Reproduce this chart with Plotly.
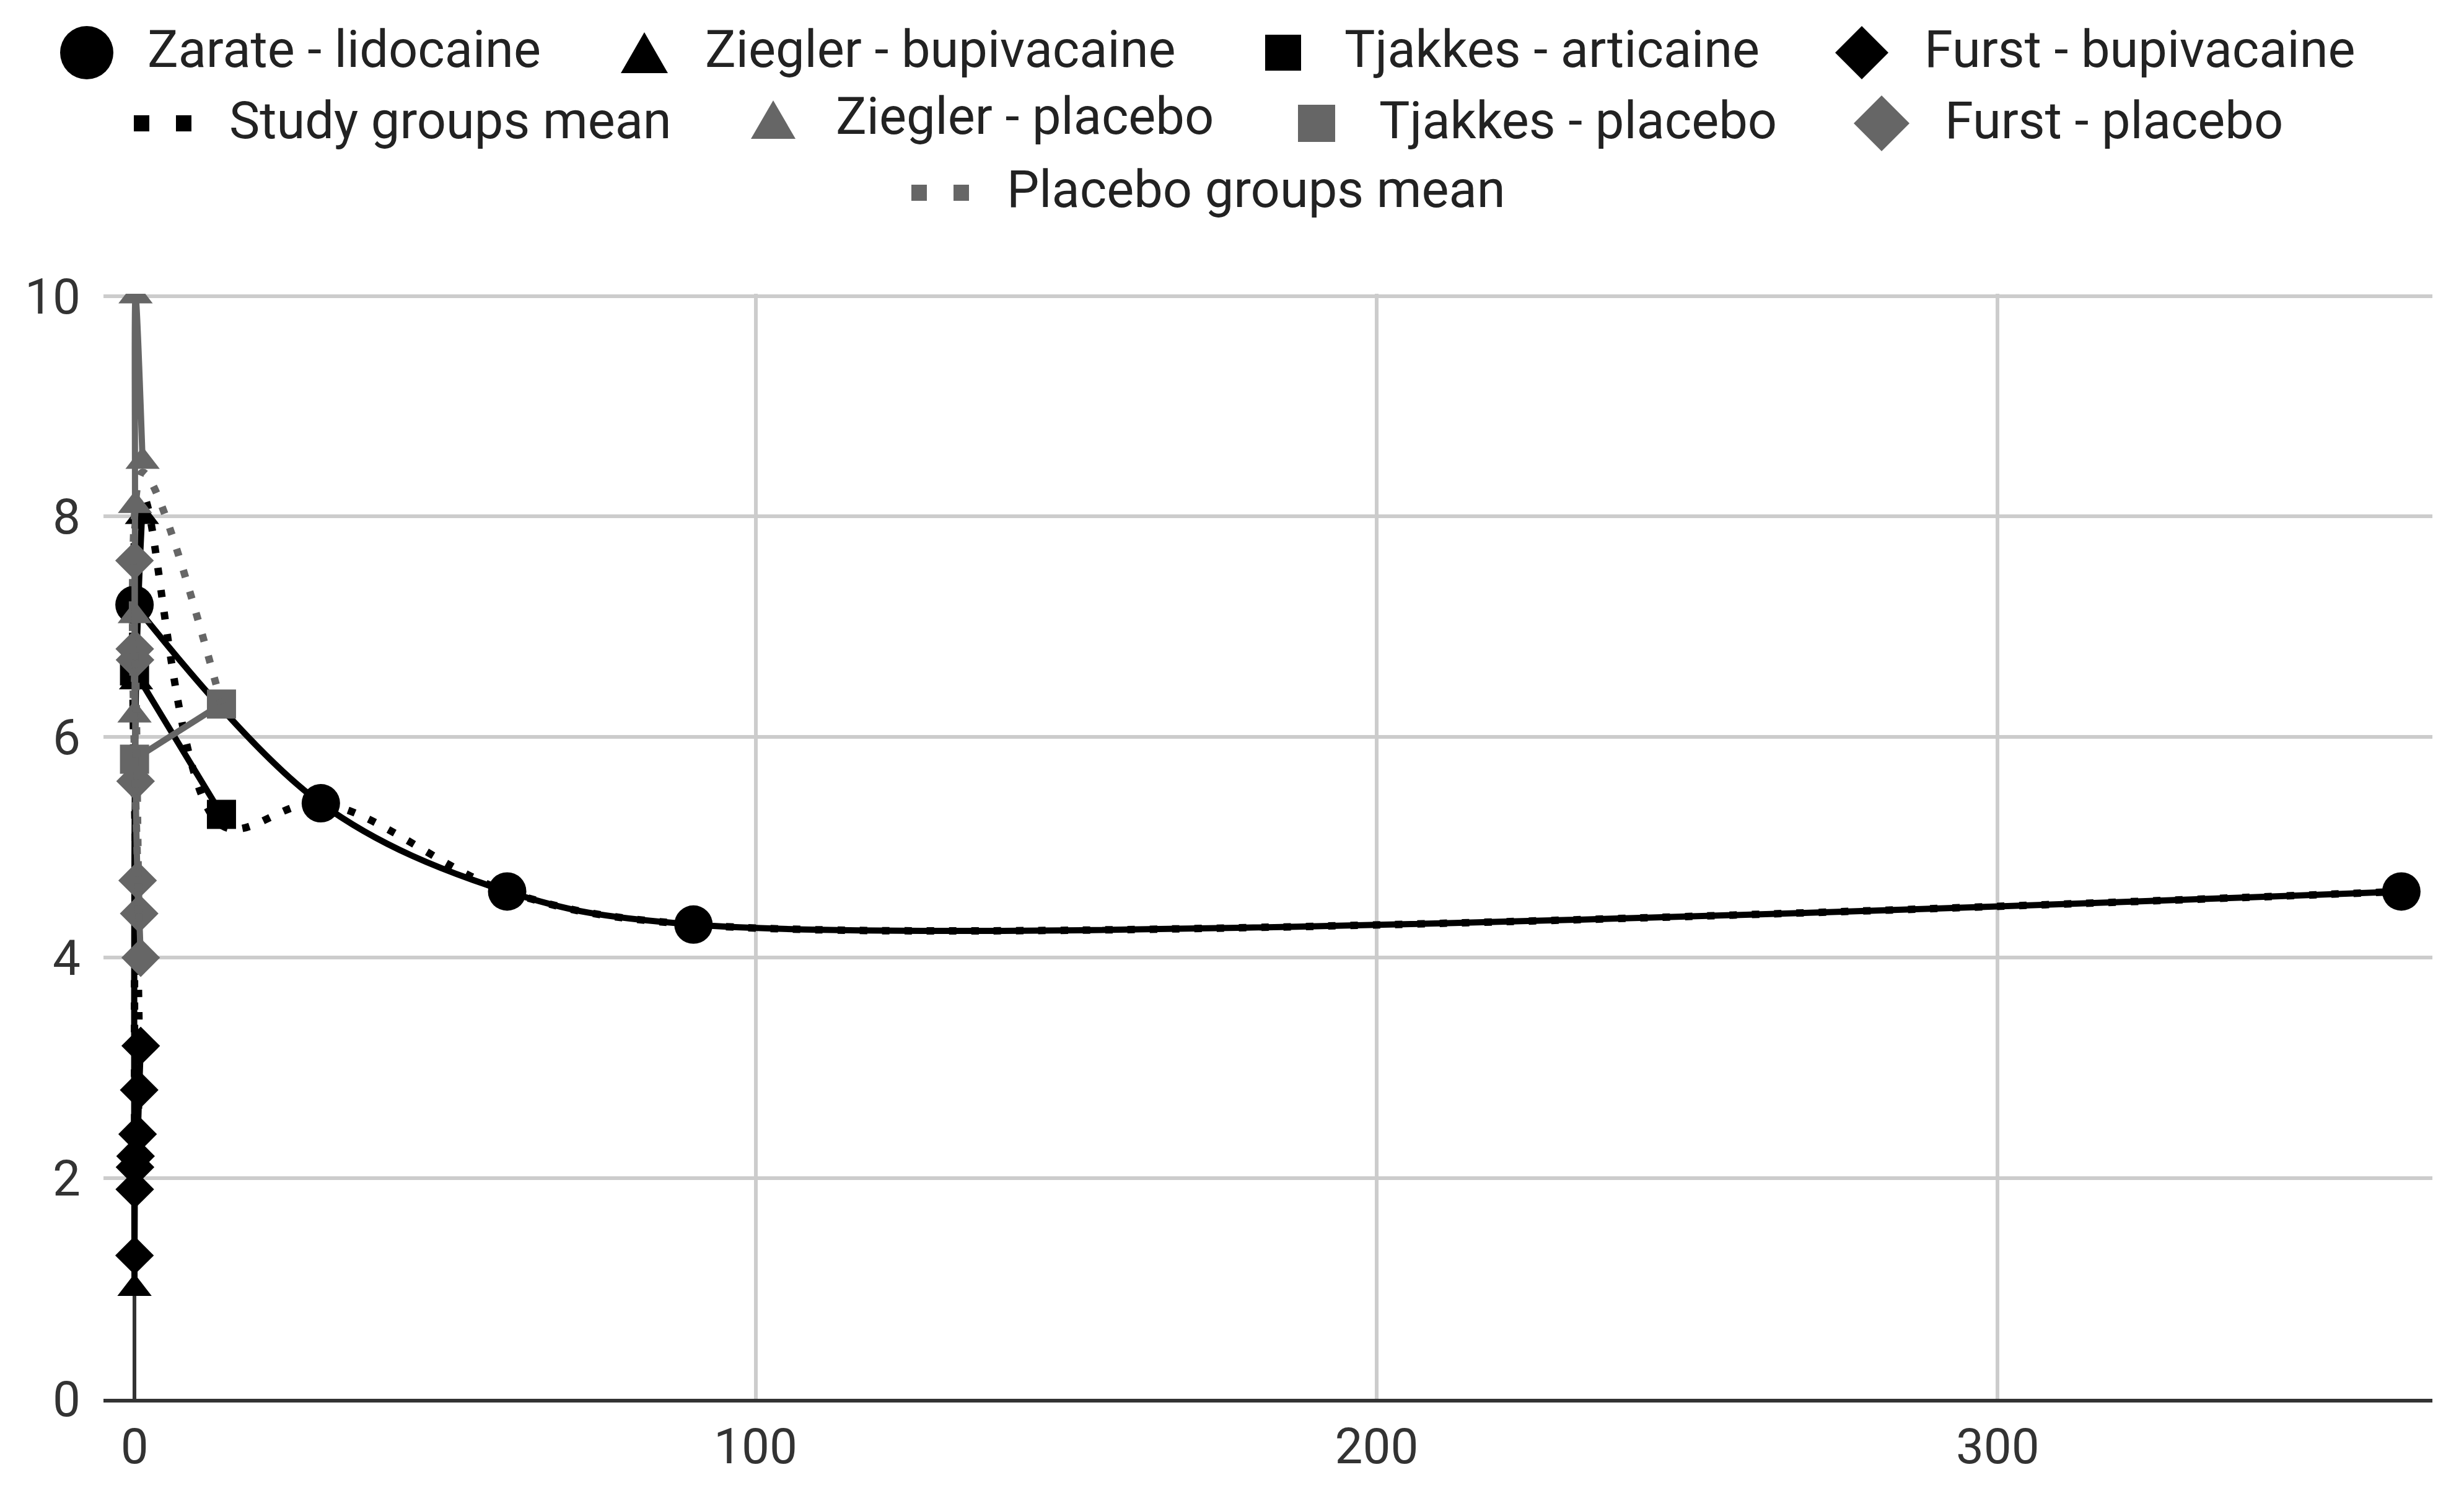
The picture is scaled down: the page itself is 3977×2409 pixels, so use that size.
import plotly.graph_objects as go

# pain score (0-10) against days after surgery
zarate_x = [0, 30, 60, 90, 365]
zarate_y = [7.2, 5.4, 4.6, 4.3, 4.6]

ziegler_bupi_x = [0, 0.25, 1.2]
ziegler_bupi_y = [1.0, 6.5, 8.0]

tjakkes_art_x = [0, 14]
tjakkes_art_y = [6.6, 5.3]

furst_x = [0, 0.04, 0.08, 0.17, 0.5, 0.75, 1.0]
furst_bupi_y = [1.3, 1.9, 2.1, 2.2, 2.4, 2.8, 3.2]

study_mean_x = [0, 0.1, 0.25, 0.5, 0.75, 1.2, 14, 30, 60, 90, 365]
study_mean_y = [4.0, 1.9, 2.2, 2.4, 3.0, 8.2, 5.2, 5.4, 4.6, 4.3, 4.6]

ziegler_plac_x = [0, 0.04, 0.08, 0.17, 1.3]
ziegler_plac_y = [6.2, 7.1, 8.1, 10.0, 8.5]

tjakkes_plac_x = [0, 14]
tjakkes_plac_y = [5.8, 6.3]

furst_plac_y = [7.6, 6.8, 6.7, 5.6, 4.7, 4.4, 4.0]

placebo_mean_x = [0, 0.1, 0.25, 0.5, 0.75, 1.3, 14]
placebo_mean_y = [6.5, 6.8, 6.4, 5.2, 4.3, 8.4, 6.3]

x_ticks = [0, 100, 200, 300]
y_ticks = [0, 2, 4, 6, 8, 10]

BLACK = "#000000"
GREY = "#666666"

W, H = 3977, 2409
L, R, T, B = 167, 51, 474, 152


def fx(px):
    return (px - L) / (W - L - R)


def fy(py):
    return (H - B - py) / (H - T - B)


fig = go.Figure()


def add_series(x, y, color, symbol, size):
    fig.add_trace(go.Scatter(
        x=x, y=y, mode="lines+markers", showlegend=False,
        line=dict(color=color, width=10, shape="spline", smoothing=1),
        marker=dict(color=color, symbol=symbol, size=size, line=dict(width=0)),
    ))


def add_mean(x, y, color):
    fig.add_trace(go.Scatter(
        x=x, y=y, mode="lines", showlegend=False,
        line=dict(color=color, width=12, dash="12px,24px", shape="spline", smoothing=1),
    ))


add_series(zarate_x, zarate_y, BLACK, "circle", 62)
add_series(ziegler_bupi_x, ziegler_bupi_y, BLACK, "triangle-up", 48)
add_series(tjakkes_art_x, tjakkes_art_y, BLACK, "square", 47)
add_series(furst_x, furst_bupi_y, BLACK, "diamond", 48)
add_mean(study_mean_x, study_mean_y, BLACK)
add_series(ziegler_plac_x, ziegler_plac_y, GREY, "triangle-up", 48)
add_series(tjakkes_plac_x, tjakkes_plac_y, GREY, "square", 47)
add_series(furst_x, furst_plac_y, GREY, "diamond", 48)
add_mean(placebo_mean_x, placebo_mean_y, GREY)

# legend drawn by hand so the symbols can be as large as in the original
legend_items = [
    ("Zarate - lidocaine", "circle", BLACK, 140, 85, 236, 43),
    ("Ziegler - bupivacaine", "triangle", BLACK, 1040, 85, 1136, 38),
    ("Tjakkes - articaine", "square", BLACK, 2071, 85, 2168, 29),
    ("Furst - bupivacaine", "diamond", BLACK, 3005, 85, 3104, 43),
    ("Study groups mean", "dots", BLACK, 216, 199, 368, 0),
    ("Ziegler - placebo", "triangle", GREY, 1248, 193, 1347, 36),
    ("Tjakkes - placebo", "square", GREY, 2125, 199, 2224, 30),
    ("Furst - placebo", "diamond", GREY, 3037, 199, 3137, 45),
    ("Placebo groups mean", "dots", GREY, 1471, 311, 1623, 0),
]

shapes = []
annotations = []
for label, kind, color, sx, sy, tx, r in legend_items:
    base = dict(xref="paper", yref="paper", xsizemode="pixel", ysizemode="pixel",
                xanchor=fx(sx), yanchor=fy(sy))
    if kind == "circle":
        shapes.append(dict(base, type="circle", x0=-r, x1=r, y0=-r, y1=r,
                           fillcolor=color, line=dict(width=0)))
    elif kind == "square":
        shapes.append(dict(base, type="rect", x0=-r, x1=r, y0=-r, y1=r,
                           fillcolor=color, line=dict(width=0)))
    elif kind == "triangle":
        h = round(r * 0.87)
        shapes.append(dict(base, type="path", path=f"M-{r},-{h} L{r},-{h} L0,{h} Z",
                           fillcolor=color, line=dict(width=0)))
    elif kind == "diamond":
        shapes.append(dict(base, type="path", path=f"M0,{r} L{r},0 L0,-{r} L-{r},0 Z",
                           fillcolor=color, line=dict(width=0)))
    else:
        shapes.append(dict(base, type="line", x0=0, x1=93, y0=0, y1=0,
                           line=dict(color=color, width=26, dash="25px,43px")))
    annotations.append(dict(xref="paper", yref="paper", x=fx(tx), y=fy(sy - 5),
                            xanchor="left", yanchor="middle", showarrow=False,
                            text=label, font=dict(size=83, color="#222222")))

fig.update_layout(
    width=W, height=H,
    margin=dict(l=L, r=R, t=T, b=B),
    plot_bgcolor="white", paper_bgcolor="white",
    showlegend=False,
    font=dict(family="Roboto, Arial, sans-serif", size=80, color="#333333"),
    shapes=shapes,
    annotations=annotations,
)
fig.update_xaxes(
    range=[-5, 370], tickvals=x_ticks, ticks="", ticklabelstandoff=2,
    automargin=False,
    showgrid=True, gridcolor="#cccccc", gridwidth=6,
    zeroline=True, zerolinecolor="#333333", zerolinewidth=6,
    showline=True, linecolor="#333333", linewidth=6,
)
fig.update_yaxes(
    range=[0, 10.02], tickvals=y_ticks, ticks="", ticklabelstandoff=36,
    automargin=False,
    showgrid=True, gridcolor="#cccccc", gridwidth=6,
    zeroline=False, showline=False,
)

# the page's default body margin would push the chart 8px off its place
fig.write_html("out.html", config={"displayModeBar": False},
               post_script="document.body.style.margin='0';")
